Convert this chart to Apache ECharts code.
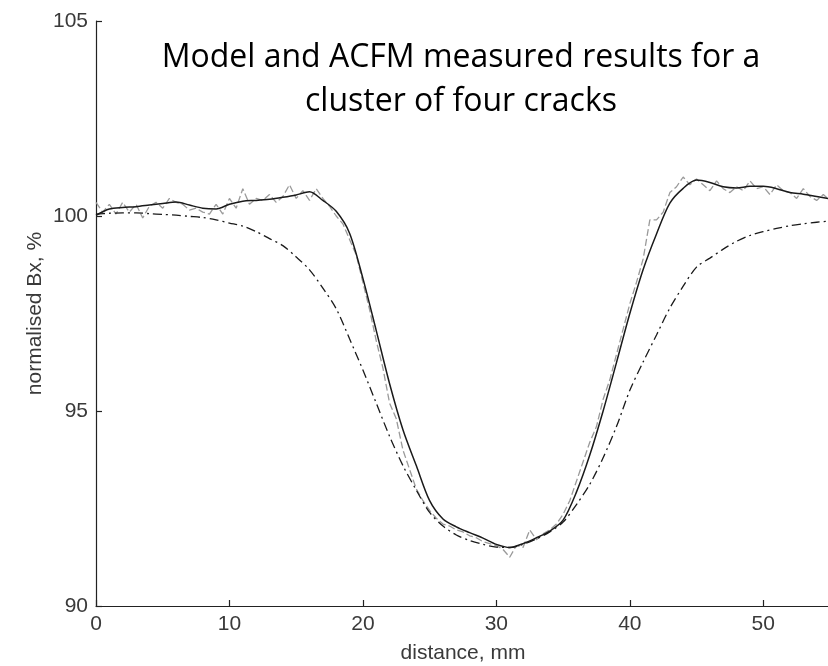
<!DOCTYPE html>
<html>
<head>
<meta charset="utf-8">
<title>Model and ACFM measured results</title>
<script src="https://cdn.jsdelivr.net/npm/echarts@6/dist/echarts.min.js"></script>
<style>
  html, body { margin: 0; padding: 0; background: #ffffff; }
  #chart { width: 828px; height: 666px; }
</style>
</head>
<body>
<div id="chart"></div>
<script>
// Distance along the scan, mm (1 mm steps for the model curves)
const distanceModel = [
  0, 1, 2, 3, 4, 5, 6, 7, 8, 9, 10, 11, 12, 13, 14, 15, 16, 17, 18, 19,
  20, 21, 22, 23, 24, 25, 26, 27, 28, 29, 30, 31, 32, 33, 34, 35, 36, 37, 38, 39,
  40, 41, 42, 43, 44, 45, 46, 47, 48, 49, 50, 51, 52, 53, 54, 55
];

// Smoothed measured Bx, % (solid line)
const bxSmoothed = [
  100.02, 100.18, 100.22, 100.24, 100.28, 100.32, 100.36, 100.28, 100.20, 100.18,
  100.30, 100.38, 100.40, 100.43, 100.48, 100.54, 100.62, 100.40, 100.12, 99.56,
  98.40, 97.06, 95.70, 94.52, 93.60, 92.70, 92.23, 92.03, 91.88, 91.74,
  91.58, 91.50, 91.60, 91.75, 91.92, 92.20, 92.92, 93.87, 95.00, 96.24,
  97.50, 98.63, 99.54, 100.33, 100.71, 100.92, 100.86, 100.75, 100.72, 100.76,
  100.76, 100.70, 100.60, 100.56, 100.50, 100.44
];

// Model prediction of Bx, % (dash-dot line)
const bxModel = [
  100.05, 100.07, 100.08, 100.08, 100.06, 100.04, 100.02, 99.99, 99.96, 99.90,
  99.82, 99.74, 99.60, 99.42, 99.24, 98.95, 98.62, 98.15, 97.62, 96.85,
  96.05, 95.20, 94.35, 93.60, 92.97, 92.40, 92.05, 91.82, 91.68, 91.58,
  91.51, 91.50, 91.58, 91.72, 91.90, 92.15, 92.60, 93.12, 93.80, 94.60,
  95.53, 96.26, 96.95, 97.64, 98.20, 98.69, 98.92, 99.15, 99.35, 99.50,
  99.60, 99.68, 99.75, 99.80, 99.84, 99.87
];

// Raw ACFM readings, 0.5 mm steps (grey dashed line)
const distanceRaw = [
  0, 0.5, 1, 1.5, 2, 2.5, 3, 3.5, 4, 4.5, 5, 5.5, 6, 6.5, 7, 7.5, 8, 8.5, 9, 9.5,
  10, 10.5, 11, 11.5, 12, 12.5, 13, 13.5, 14, 14.5, 15, 15.5, 16, 16.5, 17, 17.5, 18, 18.5, 19, 19.5,
  20, 20.5, 21, 21.5, 22, 22.5, 23, 23.5, 24, 24.5, 25, 25.5, 26, 26.5, 27, 27.5, 28, 28.5, 29, 29.5,
  30, 30.5, 31, 31.5, 32, 32.5, 33, 33.5, 34, 34.5, 35, 35.5, 36, 36.5, 37, 37.5, 38, 38.5, 39, 39.5,
  40, 40.5, 41, 41.5, 42, 42.5, 43, 43.5, 44, 44.5, 45, 45.5, 46, 46.5, 47, 47.5, 48, 48.5, 49, 49.5,
  50, 50.5, 51, 51.5, 52, 52.5, 53, 53.5, 54, 54.5, 55
];
const bxRaw = [
  100.35, 100.10, 100.30, 100.05, 100.35, 100.10, 100.30, 99.95, 100.25, 100.35,
  100.20, 100.45, 100.35, 100.30, 100.15, 100.20, 100.10, 100.05, 100.30, 100.05,
  100.45, 100.20, 100.70, 100.30, 100.45, 100.40, 100.55, 100.35, 100.50, 100.80,
  100.45, 100.65, 100.40, 100.70, 100.45, 100.25, 100.00, 99.80, 99.40, 99.00,
  98.30, 97.60, 96.80, 96.10, 95.20, 94.80, 94.00, 93.50, 93.00, 92.70,
  92.45, 92.25, 92.10, 92.05, 91.95, 91.90, 91.80, 91.75, 91.65, 91.60,
  91.55, 91.45, 91.25, 91.55, 91.50, 91.95, 91.70, 91.85, 91.95, 92.10,
  92.35, 92.70, 93.20, 93.70, 94.20, 94.60, 95.30, 95.80, 96.45, 97.10,
  97.75, 98.30, 98.90, 99.90, 99.90, 100.10, 100.60, 100.75, 101.00, 100.80,
  100.95, 100.80, 100.65, 100.90, 100.70, 100.60, 100.75, 100.65, 100.90, 100.70,
  100.75, 100.55, 100.80, 100.65, 100.60, 100.45, 100.70, 100.50, 100.40, 100.55,
  100.40
];

// Axis ticks
const xTicks = [0, 10, 20, 30, 40, 50];
const yTicks = [90, 95, 100, 105];

const pairs = (xs, ys) => xs.map((x, i) => [x, ys[i]]);

const axisFont = 'Liberation Sans, Arial, sans-serif';
const axisColor = '#3a3a3a';

const chart = echarts.init(document.getElementById('chart'), null, { renderer: 'canvas' });

chart.setOption({
  animation: false,
  backgroundColor: '#ffffff',
  title: {
    text: 'Model and ACFM measured results for a\ncluster of four cracks',
    left: 456,
    top: 31,
    textAlign: 'center',
    textStyle: {
      fontFamily: 'Open Sans, sans-serif',
      fontSize: 32,
      fontWeight: 'normal',
      lineHeight: 44,
      color: '#000000'
    }
  },
  grid: {
    left: 96, top: 21, width: 734, height: 585,
    containLabel: false,
    outerBoundsMode: 'none'
  },
  xAxis: {
    type: 'value',
    min: 0,
    max: 55,
    interval: 10,
    name: 'distance, mm',
    nameLocation: 'middle',
    nameGap: 37,
    nameTextStyle: { fontFamily: axisFont, fontSize: 21, color: axisColor },
    axisLine: { show: true, onZero: false, lineStyle: { color: '#222222', width: 1.2 } },
    axisTick: {
      show: true, inside: true, length: 6,
      customValues: xTicks,
      lineStyle: { color: '#222222', width: 1.2 }
    },
    axisLabel: {
      margin: 8,
      fontFamily: axisFont,
      fontSize: 21,
      color: axisColor,
      customValues: xTicks,
      formatter: v => String(v)
    },
    splitLine: { show: false }
  },
  yAxis: {
    type: 'value',
    min: 90,
    max: 105,
    interval: 5,
    name: 'normalised Bx, %',
    nameLocation: 'middle',
    nameGap: 50,
    nameMoveOverlap: false,
    nameRotate: 90,
    nameTextStyle: { fontFamily: axisFont, fontSize: 21, color: axisColor },
    axisLine: { show: true, onZero: false, lineStyle: { color: '#222222', width: 1.2 } },
    axisTick: {
      show: true, inside: true, length: 6,
      customValues: yTicks,
      lineStyle: { color: '#222222', width: 1.2 }
    },
    axisLabel: {
      margin: 8,
      fontFamily: axisFont,
      fontSize: 21,
      color: axisColor,
      customValues: yTicks,
      formatter: v => String(v)
    },
    splitLine: { show: false }
  },
  series: [
    {
      name: 'ACFM raw',
      type: 'line',
      data: pairs(distanceRaw, bxRaw),
      showSymbol: false,
      clip: true,
      lineStyle: { color: '#9a9a9a', width: 1.3, type: [7, 3] },
      z: 2
    },
    {
      name: 'Model',
      type: 'line',
      data: pairs(distanceModel, bxModel),
      showSymbol: false,
      smooth: 0.3,
      clip: true,
      lineStyle: { color: '#1a1a1a', width: 1.3, type: [9, 4, 2, 4] },
      z: 3
    },
    {
      name: 'ACFM smoothed',
      type: 'line',
      data: pairs(distanceModel, bxSmoothed),
      showSymbol: false,
      smooth: 0.3,
      clip: true,
      lineStyle: { color: '#1a1a1a', width: 1.5, type: 'solid' },
      z: 4
    }
  ]
});
</script>
</body>
</html>
